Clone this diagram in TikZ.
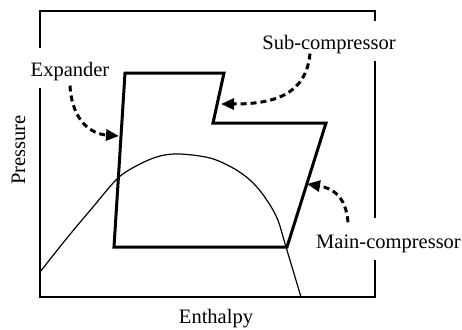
\documentclass[tikz,border=0pt]{standalone}
\usepackage{fontspec}
\setmainfont{Liberation Serif}
\usetikzlibrary{arrows.meta}
\begin{document}
\begin{tikzpicture}[x=1pt,y=-1pt,
  framel/.style={line width=1.3pt},
  cyclel/.style={line width=3pt,line join=miter},
  domel/.style={line width=1.2pt},
  darr/.style={line width=3pt,dash pattern=on 6pt off 4pt,-{Triangle[length=13pt,width=11pt]}},
  lbl/.style={inner sep=0pt,font=\fontsize{20.5pt}{24pt}\selectfont}]
\useasboundingbox (0,0) rectangle (462,329);
% frame
\draw[framel] (40,48) -- (40,11) -- (375,11) -- (375,21);
\draw[framel] (40,88) -- (40,297) -- (375,297) -- (375,260);
\draw[framel] (375,61) -- (375,218);
% cycle
\coordinate (c1) at (125,73);
\coordinate (c2) at (224,73);
\coordinate (c3) at (213,123);
\coordinate (c4) at (326,123);
\coordinate (c5) at (287,247);
\coordinate (c6) at (114,247);
\draw[cyclel] (c1) -- (c2) -- (c3) -- (c4) -- (c5) -- (c6) -- cycle;
% dome
\draw[domel] plot[smooth,tension=0.55] coordinates {(40,272) (67,238) (93,207) (118,178) (140,164) (160,156) (180,154) (210,158) (233,168) (250,180) (264,196) (277,218) (286,247) (301,297)};
% labels
\node[lbl,anchor=base] (exp) at (70,76) {Expander};
\node[lbl,anchor=base] (sub) at (329,49) {Sub-compressor};
\node[lbl,anchor=base] (main) at (388.5,248) {Main-compressor};
\node[lbl,anchor=base,rotate=90] (pres) at (25,150) {Pressure};
\node[lbl,anchor=base] (enth) at (216,323) {Enthalpy};
% arrows
\coordinate (texp) at (119,136);
\coordinate (tsub) at (221,104);
\coordinate (tmain) at (307,184);
\draw[darr] ([yshift=-5pt]exp.south) .. controls (72,122) and (92,134) .. (texp);
\draw[darr] ([xshift=-19pt]sub.south) .. controls (306,96) and (272,104) .. (tsub);
\draw[darr] ([xshift=-40.5pt,yshift=12pt]main.north) .. controls (346,196) and (332,188) .. (tmain);
\end{tikzpicture}
\end{document}
